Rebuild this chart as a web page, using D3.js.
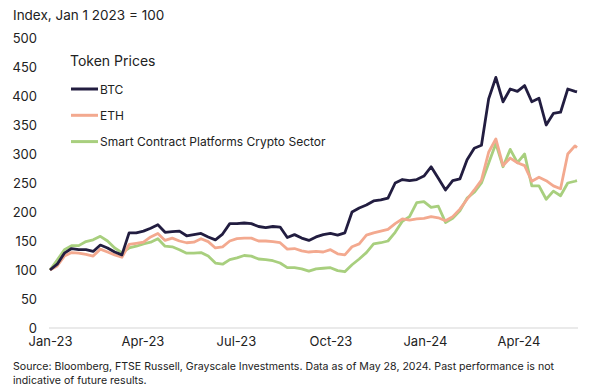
<!DOCTYPE html>
<html>
<head>
<meta charset="utf-8">
<script src="https://cdn.jsdelivr.net/npm/d3@7"></script>
<style>
  body { margin: 0; background: #fff; }
  svg { font-family: Inter, "Noto Sans", sans-serif; }
</style>
</head>
<body>
<div id="chart"></div>
<script>
// weekly samples from Jan 1 2023, last point May 28 2024
var startDate = new Date(2023, 0, 1);
var endDate = new Date(2024, 4, 28);

var btc = [100, 110, 129, 137, 135, 135, 132, 143, 138, 131,
           126, 164, 164, 167, 172, 178, 165, 166, 167, 159,
           161, 163, 157, 152, 162, 180, 180, 181, 180, 175,
           173, 175, 174, 156, 161, 155, 151, 157, 161, 163,
           160, 164, 200, 207, 212, 219, 221, 224, 250, 256,
           254, 256, 262, 278, 258, 238, 254, 257, 290, 310,
           315, 395, 432, 390, 412, 408, 418, 390, 396, 350,
           370, 372, 412, 408, 407];
var eth = [100, 107, 124, 130, 129, 127, 124, 136, 131, 126,
           122, 144, 146, 148, 157, 163, 151, 155, 150, 147,
           148, 154, 149, 138, 140, 150, 154, 155, 155, 150,
           150, 149, 147, 136, 137, 133, 131, 132, 131, 135,
           128, 126, 140, 145, 160, 164, 167, 170, 180, 188,
           186, 188, 189, 192, 190, 185, 192, 205, 222, 238,
           255, 303, 326, 280, 293, 285, 280, 253, 260, 254,
           245, 240, 300, 314, 311];
var scp = [100, 117, 135, 142, 142, 149, 152, 158, 150, 138,
           130, 138, 141, 145, 148, 154, 141, 140, 135, 129,
           129, 130, 124, 112, 110, 118, 121, 125, 124, 119,
           118, 116, 112, 104, 104, 102, 98, 102, 103, 104,
           99, 97, 109, 119, 130, 145, 147, 150, 165, 184,
           192, 216, 218, 208, 210, 182, 189, 202, 224, 234,
           250, 284, 318, 278, 308, 285, 300, 245, 245, 222,
           236, 228, 250, 253, 254];

var dates = btc.map(function(d, i){
	return i < btc.length - 1 ? d3.timeDay.offset(startDate, i * 7) : endDate;
});

var seriesNames = ["BTC", "ETH", "Smart Contract Platforms Crypto Sector"];
var seriesColors = ["#221d40", "#f3a98f", "#a8cf7e"];
var seriesValues = [btc, eth, scp];

var yTicks = [0, 50, 100, 150, 200, 250, 300, 350, 400, 450, 500];
var xTicks = [new Date(2023,0,1), new Date(2023,3,1), new Date(2023,6,1),
              new Date(2023,9,1), new Date(2024,0,1), new Date(2024,3,1)];

var w = 600, h = 389;

var svg = d3.select("#chart").append("svg")
	.attr("width", w).attr("height", h);

var x = d3.scaleTime().domain([startDate, endDate]).range([50, 577]);
var y = d3.scaleLinear().domain([0, 500]).range([328, 38]);

// title
svg.append("text")
	.attr("x", 13).attr("y", 20)
	.attr("font-size", 13.5).attr("fill", "#222")
	.text("Index, Jan 1 2023 = 100");

// y axis labels
svg.append("g")
	.attr("transform", "translate(37,0)")
	.call(d3.axisLeft(y).tickValues(yTicks).tickSize(0).tickPadding(0))
	.call(function(g){
		g.select(".domain").remove();
		g.selectAll("text").attr("font-size", 13).attr("fill", "#222")
			.attr("font-family", "Inter, sans-serif");
	});

// baseline
svg.append("line")
	.attr("x1", 49).attr("x2", 578)
	.attr("y1", y(0)).attr("y2", y(0))
	.attr("stroke", "#e3e3e3").attr("stroke-width", 1.5);

// x axis labels
svg.append("g")
	.attr("transform", "translate(0,337)")
	.call(d3.axisBottom(x).tickValues(xTicks).tickSize(0).tickPadding(0)
		.tickFormat(d3.timeFormat("%b-%y")))
	.call(function(g){
		g.select(".domain").remove();
		g.selectAll("text").attr("font-size", 13).attr("fill", "#222")
			.attr("font-family", "Inter, sans-serif");
	});

var line = d3.line()
	.x(function(d){ return x(d.date); })
	.y(function(d){ return y(d.value); });

// draw green first, then eth, then btc on top
[2, 1, 0].forEach(function(k){
	var pts = seriesValues[k].map(function(v, i){ return {date: dates[i], value: v}; });
	svg.append("path")
		.datum(pts)
		.attr("fill", "none")
		.attr("stroke", seriesColors[k])
		.attr("stroke-width", 2.8)
		.attr("stroke-linejoin", "round")
		.attr("d", line);
});

// legend
svg.append("text")
	.attr("x", 70).attr("y", 66)
	.attr("font-size", 14).attr("fill", "#222")
	.text("Token Prices");

var legend = svg.selectAll(".lg")
	.data(seriesNames)
	.enter().append("g")
	.attr("transform", function(d, i){ return "translate(71," + (89 + i * 26.3) + ")"; });

legend.append("line")
	.attr("x1", 0).attr("x2", 27)
	.attr("stroke", function(d, i){ return seriesColors[i]; })
	.attr("stroke-width", 3);

legend.append("text")
	.attr("x", 29).attr("y", 4.5)
	.attr("font-size", 12).attr("fill", "#222")
	.text(function(d){ return d; });

// source
svg.append("text")
	.attr("x", 13).attr("y", 370)
	.attr("font-size", 10.6).attr("fill", "#222")
	.text("Source: Bloomberg, FTSE Russell, Grayscale Investments. Data as of May 28, 2024. Past performance is not");
svg.append("text")
	.attr("x", 13).attr("y", 384)
	.attr("font-size", 10.6).attr("fill", "#222")
	.text("indicative of future results.");
</script>
</body>
</html>
